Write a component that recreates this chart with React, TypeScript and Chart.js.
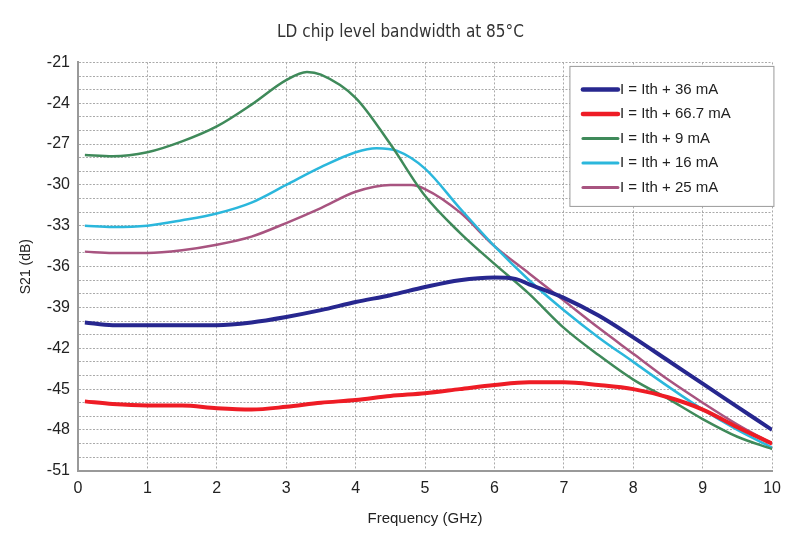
import { Chart, registerables } from 'chart.js';
import { useRef, useEffect } from 'react';

Chart.register(...registerables);

const seriesLabels = ['I = Ith + 36 mA', 'I = Ith + 66.7 mA', 'I = Ith + 9 mA', 'I = Ith + 16 mA', 'I = Ith + 25 mA'];
const seriesColors = ['#27278f', '#ee1c25', '#3f8a5a', '#2bb7dc', '#a85480'];
const seriesWidths = [4, 4, 2.5, 2.5, 2.5];

const freq36 = [0.1, 0.5, 1, 1.5, 2, 2.5, 3, 3.5, 4, 4.5, 5, 5.5, 6, 6.3, 6.5, 7, 7.5, 8, 8.5, 9, 9.5, 10];
const s21_36 = [-40.1, -40.3, -40.3, -40.3, -40.3, -40.1, -39.7, -39.2, -38.6, -38.1, -37.5, -37.0, -36.8, -36.9, -37.3, -38.3, -39.6, -41.2, -42.9, -44.6, -46.3, -48.0];

const freq667 = [0.1, 0.5, 1, 1.5, 2, 2.5, 3, 3.5, 4, 4.5, 5, 5.5, 6, 6.5, 7, 7.5, 8, 8.5, 9, 9.5, 10];
const s21_667 = [-45.9, -46.1, -46.2, -46.2, -46.4, -46.5, -46.3, -46.0, -45.8, -45.5, -45.3, -45.0, -44.7, -44.5, -44.5, -44.7, -45.0, -45.6, -46.5, -47.8, -49.0];

const freq9 = [0.1, 0.5, 1, 1.5, 2, 2.5, 3, 3.3, 3.5, 4, 4.5, 5, 5.5, 6, 6.5, 7, 7.5, 8, 8.5, 9, 9.5, 10];
const s21_9 = [-27.8, -27.9, -27.6, -26.8, -25.7, -24.1, -22.3, -21.7, -21.9, -23.6, -27.0, -30.8, -33.5, -35.8, -38.0, -40.5, -42.5, -44.3, -45.7, -47.2, -48.5, -49.4];

const freq16 = [0.1, 0.5, 1, 1.5, 2, 2.5, 3, 3.5, 4, 4.3, 4.6, 5, 5.5, 6, 6.5, 7, 7.5, 8, 8.5, 9, 9.5, 10];
const s21_16 = [-33.0, -33.1, -33.0, -32.6, -32.1, -31.3, -30.0, -28.7, -27.6, -27.3, -27.5, -28.8, -31.7, -34.5, -37.0, -39.2, -41.2, -43.0, -44.8, -46.5, -48.0, -49.3];

const freq25 = [0.1, 0.5, 1, 1.5, 2, 2.5, 3, 3.5, 4, 4.5, 4.8, 5, 5.5, 6, 6.5, 7, 7.5, 8, 8.5, 9, 9.5, 10];
const s21_25 = [-34.9, -35.0, -35.0, -34.8, -34.4, -33.8, -32.8, -31.7, -30.5, -30.0, -30.0, -30.3, -32.0, -34.5, -36.5, -38.5, -40.5, -42.4, -44.3, -46.0, -47.6, -49.0];

const xs = [freq36, freq667, freq9, freq16, freq25];
const ys = [s21_36, s21_667, s21_9, s21_16, s21_25];

export default function App() {
  const chartRef = useRef<HTMLCanvasElement>(null);

  useEffect(() => {
    const ctx = chartRef.current!.getContext('2d')!;
    const chartInstance = new Chart(ctx, {
      type: 'scatter',
      data: {
        datasets: seriesLabels.map((label, i) => ({
          label,
          data: xs[i].map((x, j) => ({ x, y: ys[i][j] })),
          showLine: true,
          borderColor: seriesColors[i],
          backgroundColor: seriesColors[i],
          borderWidth: seriesWidths[i],
          pointRadius: 0,
          cubicInterpolationMode: 'monotone' as const,
        })),
      },
      options: {
        animation: false,
        responsive: true,
        maintainAspectRatio: false,
        layout: { padding: { top: 22, right: 2, left: 14, bottom: 6 } },
        plugins: {
          legend: { display: false },
          tooltip: { enabled: false },
          title: {
            display: true,
            text: 'LD chip level bandwidth at 85°C',
            color: '#333',
            font: { family: 'DejaVu Sans Condensed', size: 17, weight: 'normal' },
            padding: { top: 0, bottom: 20 },
          },
        },
        scales: {
          x: {
            type: 'linear',
            min: 0,
            max: 10,
            ticks: { stepSize: 1, padding: 8, color: '#222', font: { family: 'Liberation Sans', size: 16 } },
            grid: { color: '#aaa', drawTicks: false },
            border: { color: '#999', width: 2, dash: [2, 2] },
            title: { display: true, text: 'Frequency (GHz)', color: '#222', font: { family: 'Liberation Sans', size: 15 }, padding: { top: 4 } },
          },
          y: {
            min: -51,
            max: -21,
            ticks: {
              stepSize: 1,
              autoSkip: false,
              padding: 8,
              color: '#222',
              font: { family: 'Liberation Sans', size: 16 },
              callback: (v) => (Number(v) % 3 === 0 ? String(v) : ''),
            },
            grid: { color: '#aaa', drawTicks: false },
            border: { color: '#999', width: 2, dash: [2, 1.5] },
            title: { display: true, text: 'S21 (dB)', color: '#222', font: { family: 'Liberation Sans', size: 14 } },
          },
        },
      },
      plugins: [
        {
          id: 'legendBox',
          beforeDatasetsDraw(chart) {
            const { ctx: c, chartArea: a } = chart;
            c.save();
            c.fillStyle = '#fff';
            c.fillRect(a.left + 492, a.top + 4, 204, 140);
            c.strokeStyle = '#999';
            c.lineWidth = 1;
            c.strokeRect(a.left + 492, a.top + 4, 204, 140);
            c.restore();
          },
          afterDatasetsDraw(chart) {
            const { ctx: c, chartArea: a } = chart;
            c.save();
            c.font = '15px "Liberation Sans"';
            c.textBaseline = 'middle';
            seriesLabels.forEach((label, i) => {
              const y = a.top + 27 + i * 24.5;
              c.strokeStyle = seriesColors[i];
              c.lineWidth = seriesWidths[i] + 0.5;
              c.lineCap = 'round';
              c.beginPath();
              c.moveTo(a.left + 505, y);
              c.lineTo(a.left + 540, y);
              c.stroke();
              c.fillStyle = '#222';
              c.fillText(label, a.left + 542, y);
            });
            c.restore();
          },
        },
      ],
    });
    return () => {
      chartInstance.destroy();
    };
  }, []);

  return (
    <div style={{ position: 'fixed', left: 0, top: 0, width: 789, height: 538, background: '#fff' }}>
      <canvas ref={chartRef} />
    </div>
  );
}
